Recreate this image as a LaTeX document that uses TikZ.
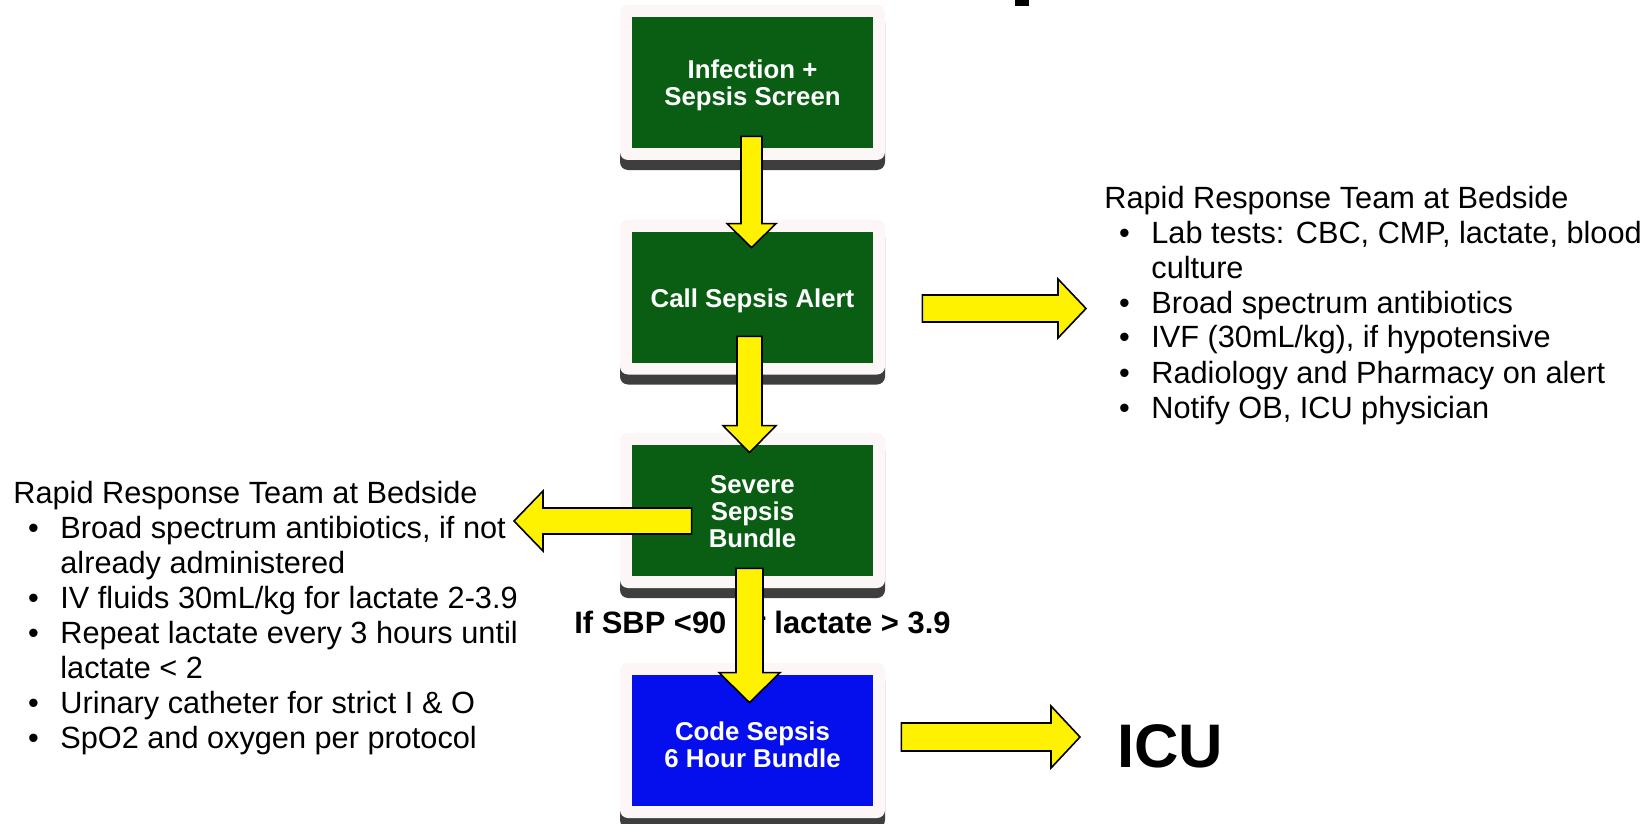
\documentclass[tikz,border=0pt]{standalone}
\usepackage{fontspec}
\setmainfont{Liberation Sans}
\usetikzlibrary{calc,shadows}
\definecolor{boxgreen}{RGB}{10,94,20}
\definecolor{boxblue}{RGB}{5,15,238}
\definecolor{framecol}{RGB}{252,246,246}
\definecolor{shadowcol}{RGB}{62,62,62}
\newcommand\boxfont{\fontsize{12.9}{13.5}\selectfont\bfseries}
\newcommand\listfont{\fontsize{15.35}{17.5}\selectfont}
\newcommand\bul{\hspace*{7.3pt}\makebox[16.2pt][l]{\textbullet}}
\newcommand\cont{\hspace*{23.5pt}}
% vertical block arrow: start, end, half shaft, half head, head length
\newcommand\yarrowV[5]{\draw[yarrow] let \p1=(#1), \p2=(#2) in
  ({\x2-#3},\y1) -- ({\x2+#3},\y1) -- ({\x2+#3},{\y2+#5}) -- ({\x2+#4},{\y2+#5}) -- (\x2,\y2)
  -- ({\x2-#4},{\y2+#5}) -- ({\x2-#3},{\y2+#5}) -- cycle;}
% horizontal block arrow: start, end, half shaft, half head, signed head length
\newcommand\yarrowH[5]{\draw[yarrow] let \p1=(#1), \p2=(#2) in
  (\x1,{\y2-#3}) -- (\x1,{\y2+#3}) -- ({\x2-(#5)},{\y2+#3}) -- ({\x2-(#5)},{\y2+#4}) -- (\x2,\y2)
  -- ({\x2-(#5)},{\y2-#4}) -- ({\x2-(#5)},{\y2-#3}) -- cycle;}
\begin{document}
\begin{tikzpicture}[x=0.5pt,y=-0.5pt,
  stepbox/.style={minimum width=132.5pt, minimum height=77.5pt, inner sep=0pt,
    fill=framecol, rounded corners=4pt,
    drop shadow={shadow xshift=0pt, shadow yshift=-5pt, fill=shadowcol, opacity=1},
    path picture={\fill[#1, sharp corners] ($(path picture bounding box.south west)+(6pt,6pt)$)
      rectangle ($(path picture bounding box.north east)+(-6pt,-6pt)$);}},
  boxtext/.style={text=white, font=\boxfont, align=center, inner sep=0pt},
  yarrow/.style={fill=yellow, draw=black, line width=0.8pt, line join=miter},
  listtext/.style={font=\listfont, anchor=base west, inner sep=0pt, align=left}]
\useasboundingbox[fill=white] (0,0) rectangle (1649,824);
\fill[black] (1015,0) rectangle (1029,6);

\node[stepbox=boxgreen] (b1) at (752.5,82.5) {};
\node[stepbox=boxgreen] (b2) at (752.5,297) {};
\node[stepbox=boxgreen] (b3) at (752.5,510.5) {};
\node[stepbox=boxblue] (b4) at (752.5,740.5) {};
\node[boxtext] (t1) at ($(b1.center)+(0,2.5)$) {Infection +\\Sepsis Screen};
\node[boxtext] (t2) at ($(b2.center)+(0,4)$) {Call Sepsis Alert};
\node[boxtext] (t3) at ($(b3.center)+(0,1)$) {Severe\\Sepsis\\Bundle};
\node[boxtext] (t4) at ($(b4.center)+(0,4.5)$) {Code Sepsis\\6 Hour Bundle};

\node[listtext] (rl) at (1104,208) {\begin{tabular}[t]{@{}l@{}}
Rapid Response Team at Bedside\\
\bul Lab tests: CBC, CMP, lactate, blood\\
\cont culture\\
\bul Broad spectrum antibiotics\\
\bul IVF (30mL/kg), if hypotensive\\
\bul Radiology and Pharmacy on alert\\
\bul Notify OB, ICU physician
\end{tabular}};

\node[listtext] (ll) at (13,503) {\begin{tabular}[t]{@{}l@{}}
Rapid Response Team at Bedside\\
\bul Broad spectrum antibiotics, if not\\
\cont already administered\\
\bul IV fluids 30mL/kg for lactate 2-3.9\\
\bul Repeat lactate every 3 hours until\\
\cont lactate < 2\\
\bul Urinary catheter for strict I \& O\\
\bul SpO2 and oxygen per protocol
\end{tabular}};

\node[font=\fontsize{15.45}{18}\selectfont\bfseries, anchor=base west, inner sep=0pt] (cond) at (574,633) {If SBP <90 or lactate > 3.9};
\node[font=\fontsize{30.75}{36}\selectfont\bfseries, anchor=base west, inner sep=0pt] (icu) at (1117,767) {ICU};

\coordinate (a1s) at ($(b1.south)+(-1,-24)$);
\coordinate (a1e) at ($(b2.north)+(-1,28.5)$);
\coordinate (a2s) at ($(b2.south)+(-3,-38.5)$);
\coordinate (a2e) at ($(b3.north)+(-3,20)$);
\coordinate (a3s) at ($(b3.south)+(-3,-20)$);
\coordinate (a3e) at ($(b4.north)+(-3,40)$);
\coordinate (als) at ($(b3.west)+(72,10.5)$);
\coordinate (ale) at (514,521);
\coordinate (r1s) at ($(b2.east)+(37,11.5)$);
\coordinate (r1e) at (1086,308.5);
\coordinate (r2s) at ($(b4.east)+(16,-3.5)$);
\coordinate (r2e) at (1080,737);

\yarrowV{a1s}{a1e}{5.25pt}{12.25pt}{12pt}
\yarrowV{a2s}{a2e}{6.25pt}{13.25pt}{13.5pt}
\yarrowV{a3s}{a3e}{6.75pt}{15.25pt}{15pt}
\yarrowH{als}{ale}{6.5pt}{15pt}{-14.5pt}
\yarrowH{r1s}{r1e}{6.75pt}{14.75pt}{14pt}
\yarrowH{r2s}{r2e}{7pt}{15.5pt}{14.5pt}
\end{tikzpicture}
\end{document}
